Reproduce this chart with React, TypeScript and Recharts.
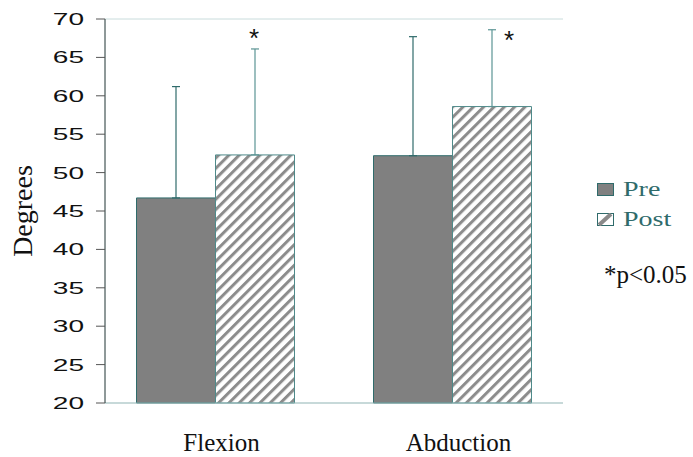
import React from 'react';
import {
    BarChart,
    Bar,
    XAxis,
    YAxis,
    ErrorBar,
    Legend,
    ReferenceLine,
} from 'recharts';

const categories = ['Flexion', 'Abduction'];
const preMeans = [46.7, 52.2];
const postMeans = [52.3, 58.6];
const preSD = [14.5, 15.5];
const postSD = [13.8, 10.0];
const significant = [true, true];
const yTicks = [20, 25, 30, 35, 40, 45, 50, 55, 60, 65, 70];

const data = categories.map((name, i) => ({
    name,
    pre: preMeans[i],
    post: postMeans[i],
    preErr: [0, preSD[i]],
    postErr: [0, postSD[i]],
    sig: significant[i],
}));

const TEAL = '#2f6b6b';
const SERIF = '"Liberation Serif", "Times New Roman", serif';
const SANS = '"Liberation Sans", Arial, sans-serif';

const StarLabel = (props: any) => {
    const { x, y, width, height, index } = props;
    if (!data[index] || !data[index].sig) return null;
    const v = postMeans[index];
    const pxPerUnit = height / (v - 20);
    const errTop = y - postSD[index] * pxPerUnit;
    // first star sits above the whisker, second beside it
    const cx = index === 0 ? x + width / 2 - 1 : x + width / 2 + 17;
    const by = index === 0 ? errTop - 2 : errTop + 19;
    return (
        <text x={cx} y={by} textAnchor="middle" style={{ fontSize: 26, fontFamily: SANS, fill: '#111' }}>
            *
        </text>
    );
};

// y tick labels in the source are stretched sideways
const YTick = (props: any) => {
    const { x, y, payload } = props;
    return (
        <text
            x={x}
            y={y}
            dy={6}
            textAnchor="end"
            style={{ fontSize: 17, fontFamily: SANS, fill: '#111' }}
            transform={`translate(${x} 0) scale(1.65 1) translate(${-x} 0)`}
        >
            {payload.value}
        </text>
    );
};

const XTick = (props: any) => {
    const { x, y, payload } = props;
    return (
        <text x={x + 6} y={y + 40} textAnchor="middle" style={{ fontSize: 25, fontFamily: SERIF, fill: '#111' }}>
            {payload.value}
        </text>
    );
};

const stretch: React.CSSProperties = {
    display: 'inline-block',
    transform: 'scaleX(1.4)',
    transformOrigin: 'left center',
};

const LegendBox = () => (
    <div style={{ fontFamily: SERIF, fontSize: 20, lineHeight: '30px', color: TEAL, width: 100 }}>
        <div style={{ display: 'flex', alignItems: 'center' }}>
            <span style={{ width: 17, height: 13, background: '#808080', border: `1px solid ${TEAL}`, marginRight: 9, boxSizing: 'border-box' }} />
            <span style={stretch}>Pre</span>
        </div>
        <div style={{ display: 'flex', alignItems: 'center' }}>
            <svg width={17} height={13} style={{ marginRight: 9 }}>
                <rect x={0.5} y={0.5} width={16} height={12} fill="#fff" stroke={TEAL} />
                <line x1={2} y1={12} x2={14} y2={1} stroke="#8a8a8a" strokeWidth={4} />
            </svg>
            <span style={stretch}>Post</span>
        </div>
    </div>
);

export default function App() {
    return (
        <div style={{ position: 'absolute', left: 0, top: 0, width: 693, height: 457, background: '#fff' }}>
            <BarChart
                width={693}
                height={457}
                data={data}
                margin={{ top: 19, right: 130, left: 0, bottom: 0 }}
                barCategoryGap={39.5}
                barGap={0}
            >
                <defs>
                    <pattern id="hatch" patternUnits="userSpaceOnUse" width={7.3} height={7.3} patternTransform="rotate(45)">
                        <rect width={7.3} height={7.3} fill="#fff" />
                        <rect width={3} height={7.3} fill="#8c8c8c" />
                    </pattern>
                </defs>
                <XAxis
                    dataKey="name"
                    height={54}
                    padding={{ left: -8, right: -8 }}
                    tickLine={false}
                    axisLine={{ stroke: '#8fb3b3' }}
                    tick={XTick}
                />
                <YAxis
                    width={105}
                    domain={[20, 70]}
                    ticks={yTicks}
                    interval={0}
                    tickSize={9}
                    tickMargin={12}
                    axisLine={{ stroke: '#1f3333' }}
                    tickLine={{ stroke: '#555' }}
                    tick={YTick}
                    label={{
                        value: 'Degrees',
                        angle: -90,
                        position: 'insideLeft',
                        offset: 22,
                        style: { textAnchor: 'middle', fontFamily: SERIF, fontSize: 28, fill: '#111' },
                    }}
                />
                <YAxis
                    yAxisId="right"
                    orientation="right"
                    width={0}
                    tick={false}
                    tickLine={false}
                    axisLine={{ stroke: '#8fb3b3' }}
                />
                <ReferenceLine y={70} stroke="#c9dcdc" />
                <Legend
                    align="center"
                    verticalAlign="middle"
                    content={LegendBox}
                    wrapperStyle={{ left: 597, top: 174, width: 100 }}
                />
                <Bar dataKey="pre" name="Pre" fill="#808080" stroke={TEAL} isAnimationActive={false}>
                    <ErrorBar dataKey="preErr" width={4} stroke={TEAL} strokeWidth={1.2} direction="y" />
                </Bar>
                <Bar dataKey="post" name="Post" fill="url(#hatch)" stroke="#4f8a8a" isAnimationActive={false} label={StarLabel}>
                    <ErrorBar dataKey="postErr" width={4} stroke="#5b9494" strokeWidth={1.2} direction="y" />
                </Bar>
            </BarChart>
            <div style={{ position: 'absolute', left: 604, top: 260, fontFamily: SERIF, fontSize: 25, lineHeight: '30px', color: '#111', whiteSpace: 'nowrap' }}>
                *p&lt;0.05
            </div>
        </div>
    );
}
